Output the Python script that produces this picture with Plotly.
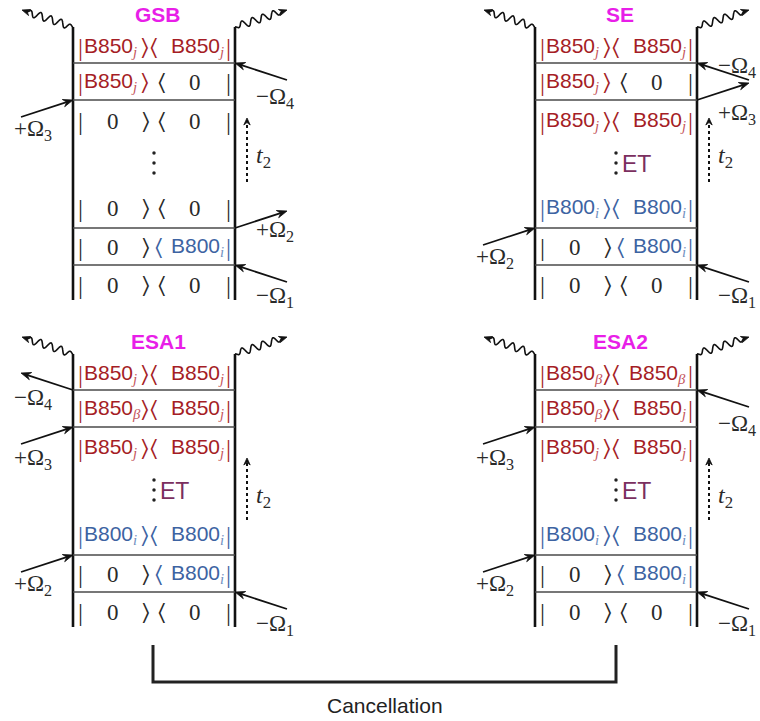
import math
import plotly.graph_objects as go

# ---------------------------------------------------------------------------
# Diagram content: double-sided Feynman diagrams for the four pathways
# ---------------------------------------------------------------------------
PANEL_TITLES = ["GSB", "SE", "ESA1", "ESA2"]

# ket / bra of each row, listed top (after last interaction) to bottom (ground)
# "" marks a plain waiting row, "ET" a waiting row with energy transfer
GSB_KETS = ["B850_j", "B850_j", "0", "", "0", "0", "0"]
GSB_BRAS = ["B850_j", "0", "0", "", "0", "B800_i", "0"]
SE_KETS = ["B850_j", "B850_j", "B850_j", "ET", "B800_i", "0", "0"]
SE_BRAS = ["B850_j", "0", "B850_j", "ET", "B800_i", "B800_i", "0"]
ESA1_KETS = ["B850_j", "B850_β", "B850_j", "ET", "B800_i", "0", "0"]
ESA1_BRAS = ["B850_j", "B850_j", "B850_j", "ET", "B800_i", "B800_i", "0"]
ESA2_KETS = ["B850_β", "B850_β", "B850_j", "ET", "B800_i", "0", "0"]
ESA2_BRAS = ["B850_β", "B850_j", "B850_j", "ET", "B800_i", "B800_i", "0"]

# field interactions, listed from the top line (4th pulse) to the bottom (1st)
FIELD_LABELS = ["−Ω<sub>4</sub>", "+Ω<sub>3</sub>", "+Ω<sub>2</sub>", "−Ω<sub>1</sub>"]
GSB_SIDES = ["R", "L", "R", "R"]
GSB_DIRS = ["in", "in", "out", "in"]
SE_SIDES = ["R", "R", "L", "R"]
SE_DIRS = ["in", "out", "in", "in"]
ESA1_SIDES = ["L", "L", "L", "R"]
ESA1_DIRS = ["out", "in", "in", "in"]
ESA2_SIDES = ["R", "L", "L", "R"]
ESA2_DIRS = ["in", "in", "in", "in"]

FOOTER_TEXT = "Cancellation"

# ---------------------------------------------------------------------------
# Layout (pixel canvas, y grows downward)
# ---------------------------------------------------------------------------
W, H = 760, 721
PANEL_X0 = [73, 535, 73, 535]
PANEL_TOP = [27, 27, 354, 354]
PANEL_W = 162
PANEL_H = 273
ROW_REL = [20, 55, 94, 136, 181, 220, 258]
LINE_REL = [36, 73, 201, 238]
T2_SPAN = [(91, 155), (91, 155), (104, 166), (104, 166)]
T2_LABEL_REL = [130, 130, 143, 143]
LABEL_DY = [[35, 30, 3, 32], [4, 14, 30, 32], [9, 32, 30, 33], [35, 32, 30, 33]]

SANS = "Liberation Sans, Arial, sans-serif"
SERIF = "Liberation Serif, Times New Roman, serif"
BRACKET_FONT = "DejaVu Sans, sans-serif"
KET_CLOSE, BRA_OPEN = "\u232a", "\u2329"
RED, RED_SUB = "#a51d25", "#c4545a"
BLUE, BLUE_SUB = "#3d63a2", "#6f8ec0"
INK = "#2a2a2a"
TITLE_COLOR = "#e81ee8"
ET_COLOR = "#7b2f5f"

kets_all = [GSB_KETS, SE_KETS, ESA1_KETS, ESA2_KETS]
bras_all = [GSB_BRAS, SE_BRAS, ESA1_BRAS, ESA2_BRAS]
sides_all = [GSB_SIDES, SE_SIDES, ESA1_SIDES, ESA2_SIDES]
dirs_all = [GSB_DIRS, SE_DIRS, ESA1_DIRS, ESA2_DIRS]

fig = go.Figure()
shapes = []


def colors_of(state):
    if state.startswith("B850"):
        return RED, RED_SUB
    if state.startswith("B800"):
        return BLUE, BLUE_SUB
    return INK, INK


def state_html(state):
    name, sub = state.split("_")
    _, subc = colors_of(state)
    return (f'{name}<sub><span style="font-family:Liberation Serif;color:{subc}">'
            f'<i>{sub}</i></span></sub>')


def text(x, y, s, size, color, family, xanchor="center"):
    fig.add_annotation(x=x, y=y, xref="x", yref="y", text=s, showarrow=False,
                       font=dict(size=size, color=color, family=family),
                       xanchor=xanchor, yanchor="middle", borderpad=0)


def arrow(xh, yh, xt, yt, width=1.8, head_len=10.0, head_w=3.8, dash=None):
    """Straight shaft from (xt, yt) to (xh, yh) with a filled stealth head."""
    dx, dy = xh - xt, yh - yt
    L = math.hypot(dx, dy)
    ux, uy = dx / L, dy / L
    px, py = -uy, ux
    bx, by = xh - ux * head_len * 0.6, yh - uy * head_len * 0.6
    line = dict(color="#111111", width=width)
    if dash:
        line["dash"] = dash
    shapes.append(dict(type="line", x0=xt, y0=yt, x1=bx, y1=by,
                       xref="x", yref="y", line=line))
    rx, ry = xh - ux * head_len, yh - uy * head_len
    path = (f"M {xh:.2f} {yh:.2f} L {rx + px * head_w:.2f} {ry + py * head_w:.2f} "
            f"L {xh - ux * head_len * 0.65:.2f} {yh - uy * head_len * 0.65:.2f} "
            f"L {rx - px * head_w:.2f} {ry - py * head_w:.2f} Z")
    shapes.append(dict(type="path", path=path, xref="x", yref="y",
                       fillcolor="#111111", line=dict(color="#111111", width=0.8)))


def wiggle(xs, ys, xe, ye, cycles=5.0, amp=3.6):
    dx, dy = xe - xs, ye - ys
    L = math.hypot(dx, dy)
    ux, uy = dx / L, dy / L
    px, py = -uy, ux
    stop = L - 5
    xx, yy = [], []
    n = 300
    for k in range(n + 1):
        s = stop * k / n
        t = s / L
        env = min(1.0, t / 0.12) * min(1.0, (stop / L - t) / 0.1)
        off = amp * math.sin(2 * math.pi * cycles * t) * env
        xx.append(xs + ux * s + px * off)
        yy.append(ys + uy * s + py * off)
    fig.add_trace(go.Scatter(x=xx, y=yy, mode="lines", hoverinfo="skip",
                             line=dict(color="#111111", width=1.6, shape="spline")))
    rx, ry = xe - ux * 8, ye - uy * 8
    path = (f"M {xe:.2f} {ye:.2f} L {rx + px * 3.2:.2f} {ry + py * 3.2:.2f} "
            f"L {xe - ux * 5.5:.2f} {ye - uy * 5.5:.2f} "
            f"L {rx - px * 3.2:.2f} {ry - py * 3.2:.2f} Z")
    shapes.append(dict(type="path", path=path, xref="x", yref="y",
                       fillcolor="#111111", line=dict(color="#111111", width=0.8)))


for p, title in enumerate(PANEL_TITLES):
    x0 = PANEL_X0[p]
    x1 = x0 + PANEL_W
    T = PANEL_TOP[p]

    # title
    text(x0 + 85, T - 13, f"<b>{title}</b>", 21, TITLE_COLOR, SANS)

    # the two time lines (ket on the left, bra on the right)
    for xv in (x0, x1):
        shapes.append(dict(type="line", x0=xv, x1=xv, y0=T, y1=T + PANEL_H,
                           xref="x", yref="y", line=dict(color="#111111", width=2.6)))
    # separators between interactions
    for lr in LINE_REL:
        shapes.append(dict(type="line", x0=x0, x1=x1, y0=T + lr, y1=T + lr,
                           xref="x", yref="y", line=dict(color="#4a4a4a", width=1.5)))

    # emitted signal at the top of both lines
    wiggle(x0, T, x0 - 51, T - 17)
    wiggle(x1, T, x1 + 52, T - 17)

    # density-matrix rows
    for r, (ket, bra) in enumerate(zip(kets_all[p], bras_all[p])):
        y = T + ROW_REL[r]
        if r == 3:
            fig.add_trace(go.Scatter(x=[x0 + 81] * 3, y=[y - 10, y, y + 10],
                                     mode="markers", hoverinfo="skip",
                                     marker=dict(size=3.5, color="#222222")))
            if ket == "ET":
                text(x0 + 86, y + 1, "ET", 23, ET_COLOR, SANS, xanchor="left")
            continue
        kc, _ = colors_of(ket)
        bc, _ = colors_of(bra)
        text(x0 + 7, y, "|", 25, kc, SERIF)
        text(x1 - 7, y, "|", 25, bc, SERIF)
        if ket == "0":
            text(x0 + 40, y, "0", 23, INK, SERIF)
        else:
            text(x0 + 10, y, state_html(ket), 21, kc, SANS, xanchor="left")
        close_x = 72 if ket != "0" else 73
        text(x0 + close_x, y, KET_CLOSE, 23, kc, BRACKET_FONT)
        if bra == "0":
            open_x = 89
        elif ket != "0":
            open_x = 81
        else:
            open_x = 86
        text(x0 + open_x, y, BRA_OPEN, 23, bc, BRACKET_FONT)
        if bra == "0":
            text(x0 + 122, y, "0", 23, INK, SERIF)
        else:
            text(x1 - 10, y, state_html(bra), 21, bc, SANS, xanchor="right")

    # waiting time t2 (dotted arrow)
    top, bot = T2_SPAN[p]
    arrow(x1 + 12, T + top, x1 + 12, T + bot, width=2, head_len=7, head_w=3.2, dash="dot")
    text(x1 + 28, T + T2_LABEL_REL[p], "<i>t</i><sub>2</sub>", 24, INK, SERIF)

    # field interactions
    for k in range(4):
        yl = T + LINE_REL[k]
        left = sides_all[p][k] == "L"
        cx = x0 if left else x1
        sgn = -1 if left else 1
        ox = cx + sgn * 52
        if dirs_all[p][k] == "in":
            arrow(cx, yl, ox, yl + 17)
        else:
            arrow(ox, yl - 17, cx, yl)
        text(cx + sgn * 40, yl + LABEL_DY[p][k], FIELD_LABELS[k], 23, INK, SERIF)

# bracket linking the two excited-state absorption pathways
shapes.append(dict(type="path", path="M 153 645 L 153 682 L 616 682 L 616 645",
                   xref="x", yref="y", line=dict(color="#222222", width=3)))
text(385, 705, FOOTER_TEXT, 21, "#222222", SANS)

fig.update_layout(
    width=W, height=H, margin=dict(l=0, r=0, t=0, b=0),
    paper_bgcolor="white", plot_bgcolor="white", showlegend=False,
    shapes=shapes,
    xaxis=dict(range=[0, W], visible=False, fixedrange=True),
    yaxis=dict(range=[H, 0], visible=False, fixedrange=True),
)

fig.write_html("out.html")
